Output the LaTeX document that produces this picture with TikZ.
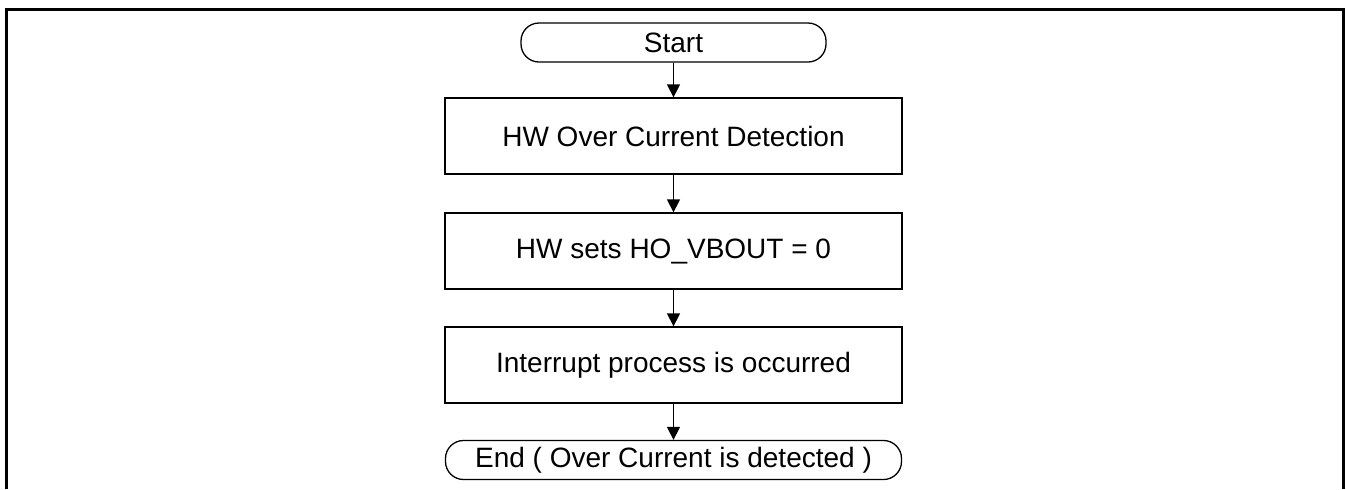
\documentclass[tikz,border=0pt]{standalone}
\usepackage{fontspec}
\setmainfont{Liberation Sans}
\usetikzlibrary{arrows.meta}

\begin{document}
\begin{tikzpicture}[x=0.5pt,y=-0.5pt,
    every node/.style={font=\fontsize{14}{17}\selectfont},
    flowbox/.style={draw, line width=0.65pt, minimum width=228.5pt, minimum height=38pt, inner sep=0pt},
    terminal/.style={draw, line width=0.65pt, rounded corners=9pt, minimum height=19.5pt, inner sep=0pt},
    flowarrow/.style={line width=0.65pt, -{Triangle[length=6.5pt, width=6.5pt]}}]
    \useasboundingbox (0,0) rectangle (1346,489);

    % frame (open at the bottom)
    \draw[line width=1.5pt] (6,489) -- (6,9) -- (1343,9) -- (1343,489);

    % Start
    \node[terminal, minimum width=152.5pt] (start) at (673.5,42.5) {Start};

    % process steps
    \node[flowbox] (detect) at (673.5,136) {HW Over Current Detection};
    \node[flowbox] (vbout) at (673.5,251) {HW sets HO\_VBOUT = 0};
    \node[flowbox] (interrupt) at (673.5,365) {Interrupt process is occurred};

    % End
    \node[terminal, minimum width=228pt] (end) at (673.5,460) {End ( Over Current is detected )};

    % connectors
    \draw[flowarrow] (start) -- (detect);
    \draw[flowarrow] (detect) -- (vbout);
    \draw[flowarrow] (vbout) -- (interrupt);
    \draw[flowarrow] (interrupt) -- (end);
\end{tikzpicture}
\end{document}
